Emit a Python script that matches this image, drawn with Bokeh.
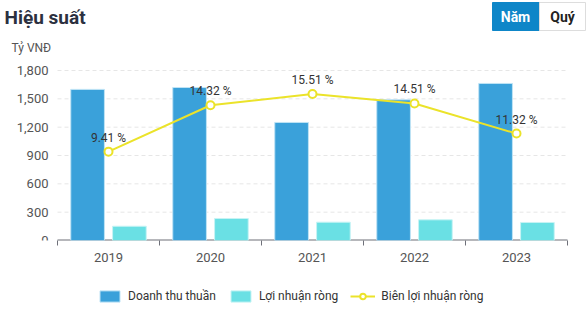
from bokeh.plotting import figure
from bokeh.layouts import column
from bokeh.models import (ColumnDataSource, Range1d, FixedTicker, Label,
                          Legend, LegendItem)
from bokeh.core.properties import value
from bokeh.embed import file_html
from bokeh.resources import INLINE

years = ["2019", "2020", "2021", "2022", "2023"]
revenue = [1600, 1620, 1250, 1490, 1663]
profit = [151, 233, 194, 219, 191]
margin = [9.41, 14.32, 15.51, 14.51, 11.32]
y_ticks = [0, 300, 600, 900, 1200, 1500, 1800]
y_tick_labels = ["0", "300", "600", "900", "1,200", "1,500", "1,800"]
series_names = ["Doanh thu thuần", "Lợi nhuận ròng", "Biên lợi nhuận ròng"]

FONT = "Roboto"
C_REV, C_REV_EDGE = "#3aa1da", "#bfe3f5"
C_PRO, C_PRO_EDGE = "#6ae0e4", "#c7f3f4"
C_LINE = "#ebe32a"

# layout geometry (canvas pixels)
FL, FB = 57, 240          # left edge of the category area / y=0 baseline
PLOT_TOP = 70             # pixel where the y max tick sits
CAT_W = 102               # pixel width of one category
W, H1 = 588, 268
Y_MAX, PCT_MAX = y_ticks[-1], 18
scale_y = FB / (FB - PLOT_TOP)   # frame extends up to the canvas top

def dx(px):
    return -0.5 + (px - FL) / CAT_W

def dy(py):
    return (FB - py) * Y_MAX / (FB - PLOT_TOP)

idx = list(range(len(years)))
src = ColumnDataSource(dict(
    x=idx,
    xr=[i - 0.205 for i in idx],
    xp=[i + 0.205 for i in idx],
    revenue=revenue,
    profit=profit,
    margin=margin,
    mlabel=[f"{m:.2f} %" for m in margin],
))
ysrc = ColumnDataSource(dict(y=y_ticks, label=y_tick_labels))
gsrc = ColumnDataSource(dict(y=y_ticks[1:]))

p = figure(width=W, height=H1, output_backend="svg", toolbar_location=None,
           y_axis_location=None,
           x_range=Range1d(dx(0), dx(W)), y_range=Range1d(0, Y_MAX * scale_y),
           min_border_left=0, min_border_right=0, min_border_top=0, min_border_bottom=H1 - FB)
p.outline_line_color = None
p.background_fill_color = "white"
p.border_fill_color = "white"
p.extra_y_ranges = {"pct": Range1d(0, PCT_MAX * scale_y)}

xa = p.xaxis[0]
xa.ticker = FixedTicker(ticks=idx, minor_ticks=[i - 0.5 for i in range(len(years) + 1)])
xa.major_label_overrides = {i: y for i, y in zip(idx, years)}
xa.major_tick_line_color = None
xa.minor_tick_out = 5
xa.minor_tick_in = 0
xa.minor_tick_line_color = "#6e7079"
xa.axis_line_color = None
xa.major_label_text_font = FONT
xa.major_label_text_font_size = "13px"
xa.major_label_text_color = "#555555"
xa.major_label_standoff = 6

p.xgrid.grid_line_color = None
p.ygrid.grid_line_color = None

# horizontal dashed grid over the category area
p.segment(x0=-0.5, x1=len(years) - 0.5, y0="y", y1="y", source=gsrc,
          line_color="#e6e6e6", line_width=1, line_dash="4 3")
# y tick labels
p.text(x=dx(48), y="y", text="label", source=ysrc, text_align="right",
       text_baseline="middle", text_font=value(FONT), text_font_size="13px",
       text_color="#555555")
# x axis baseline spanning the categories
p.segment(x0=[-0.5], x1=[len(years) - 0.5], y0=[0], y1=[0],
          line_color="#6e7079", line_width=2)

p.vbar(x="xr", top="revenue", width=0.33, source=src,
       fill_color=C_REV, line_color=C_REV_EDGE, line_width=1)
p.vbar(x="xp", top="profit", width=0.33, source=src,
       fill_color=C_PRO, line_color=C_PRO_EDGE, line_width=1)
p.line(x="x", y="margin", source=src, y_range_name="pct",
       line_color=C_LINE, line_width=2)
p.scatter(x="x", y="margin", source=src, y_range_name="pct", size=8,
          fill_color="white", line_color=C_LINE, line_width=2)
p.text(x="x", y="margin", text="mlabel", source=src, y_range_name="pct",
       y_offset=-14, text_align="center", text_baseline="middle",
       text_font=value(FONT), text_font_size="12px", text_color="#333333")

# header: buttons as quads, texts as screen labels (frame starts at canvas x=0)
p.quad(left=[dx(492)], right=[dx(539)], top=[dy(2)], bottom=[dy(30)],
       fill_color="#0e86c8", line_color="#0e86c8")
p.quad(left=[dx(539)], right=[dx(585)], top=[dy(2)], bottom=[dy(30)],
       fill_color="white", line_color="#dddddd")

def hdr(cx, cbottom, **kw):
    p.add_layout(Label(x=cx, y=FB - cbottom, x_units="screen", y_units="screen",
                       text_font=FONT, **kw))

hdr(4, 28, text="Hiệu suất", text_font_size="19px", text_font_style="bold",
    text_color="#2b3040")
hdr(11, 54, text="Tỷ VNĐ", text_font_size="12px", text_color="#555555")
hdr(515, 24, text="Năm", text_font_size="14px", text_font_style="bold",
    text_color="white", text_align="center")
hdr(562, 24, text="Quý", text_font_size="14px", text_font_style="bold",
    text_color="#222222", text_align="center")

# legend strip
q = figure(width=W, height=330 - H1, output_backend="svg", toolbar_location=None,
           x_axis_location=None, y_axis_location=None,
           x_range=Range1d(0, 1), y_range=Range1d(0, 1),
           min_border_left=0, min_border_right=0, min_border_top=0, min_border_bottom=0)
q.outline_line_color = None
q.xgrid.grid_line_color = None
q.ygrid.grid_line_color = None
offscreen = ColumnDataSource(dict(x=[-5], y=[-5]))
l1 = q.vbar(x="x", top="y", width=0.1, source=offscreen, fill_color=C_REV, line_color=C_REV_EDGE)
l2 = q.vbar(x="x", top="y", width=0.1, source=offscreen, fill_color=C_PRO, line_color=C_PRO_EDGE)
l3 = q.line(x="x", y="y", source=offscreen, line_color=C_LINE, line_width=2)
l4 = q.scatter(x="x", y="y", source=offscreen, size=10, fill_color="white",
               line_color=C_LINE, line_width=2)
legend = Legend(items=[
    LegendItem(label=series_names[0], renderers=[l1]),
    LegendItem(label=series_names[1], renderers=[l2]),
    LegendItem(label=series_names[2], renderers=[l3, l4]),
], orientation="horizontal", location=(97, 27), border_line_color=None,
    background_fill_alpha=0, glyph_width=25, glyph_height=14, label_standoff=6,
    spacing=12, label_text_font=FONT, label_text_font_size="12px",
    label_text_color="#333333", margin=0, padding=0)
q.add_layout(legend, "center")

open("out.html", "w").write(file_html(column(p, q, spacing=0), INLINE))
